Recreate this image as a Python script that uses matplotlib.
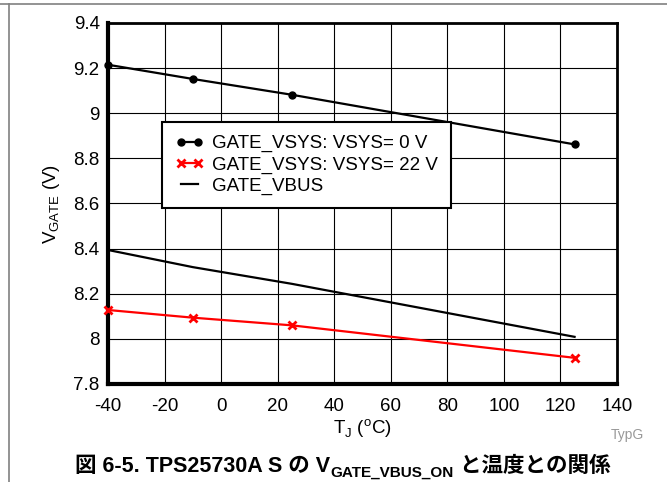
import numpy as np
import matplotlib.pyplot as plt
from matplotlib.lines import Line2D
from matplotlib.ticker import FormatStrFormatter

plt.rcParams['font.family'] = ['Liberation Sans', 'Noto Sans CJK JP']
plt.rcParams['axes.unicode_minus'] = False

temps = [-40, -10, 25, 125]
vsys_0v = [9.215, 9.152, 9.082, 8.862]
vsys_22v = [8.128, 8.094, 8.060, 7.916]
vbus = [8.394, 8.318, 8.244, 8.009]

labels = ["GATE_VSYS: VSYS= 0 V", "GATE_VSYS: VSYS= 22 V", "GATE_VBUS"]
xticks = np.arange(-40, 141, 20)
yticks = np.arange(7.8, 9.41, 0.2)

fig = plt.figure(figsize=(6.67, 4.82), dpi=100)
ax = fig.add_axes([108 / 667, 1 - 384 / 482, 509 / 667, 361 / 482])

ax.plot(temps, vsys_0v, '-o', color='black', lw=1.6, ms=5, label=labels[0], clip_on=False, zorder=3)
ax.plot(temps, vsys_22v, '-x', color='red', lw=1.6, ms=6, mew=2, label=labels[1], clip_on=False, zorder=3)
ax.plot(temps, vbus, '-', color='black', lw=1.6, label=labels[2], zorder=3)

ax.set_xlim(-40, 140)
ax.set_ylim(7.8, 9.4)
ax.set_xticks(xticks)
ax.set_yticks(yticks)
ax.yaxis.set_major_formatter(FormatStrFormatter('%g'))
ax.tick_params(length=0, labelsize=13.5)
ax.tick_params(axis='x', pad=10)
ax.tick_params(axis='y', pad=6)
ax.grid(True, color='black', lw=0.8)
for s in ax.spines.values():
    s.set_linewidth(2)
ax.spines['left'].set_linewidth(3)
ax.spines['bottom'].set_linewidth(3)

ax.set_xlabel(r'T$_\mathregular{J}$ ($^\mathregular{o}$C)', fontsize=13.5, labelpad=2)
ax.set_ylabel(r'V$_\mathregular{GATE}$ (V)', fontsize=13.5, labelpad=8)

leg = ax.legend(loc='upper left', bbox_to_anchor=(0.106, 0.726), fontsize=13.5,
                numpoints=2, handlelength=1.5, fancybox=False, framealpha=1,
                edgecolor='black', borderpad=0.7, labelspacing=0.22,
                handletextpad=0.45, borderaxespad=0)
leg.get_frame().set_linewidth(1.5)

fig.text(627 / 667, 1 - 435 / 482, 'TypG', color='#999999', fontsize=10, ha='center', va='center')

# caption: pieces placed side by side so CJK fallback works outside mathtext
cap_parts = ['図 6-5. TPS25730A S の V', 'GATE_VBUS_ON', ' と温度との関係']
cap_y = 1 - 472 / 482
fig.canvas.draw()
r = fig.canvas.get_renderer()
x = 75 / 667
t1 = fig.text(x, cap_y, cap_parts[0], fontsize=15.5, fontweight='bold', ha='left', va='baseline')
w = t1.get_window_extent(r).width / fig.bbox.width
t2 = fig.text(x + w + 0.001, cap_y - 5 / 482, cap_parts[1], fontsize=11, fontweight='bold', ha='left', va='baseline')
w2 = t2.get_window_extent(r).width / fig.bbox.width
fig.text(x + w + w2 + 0.001, cap_y, cap_parts[2], fontsize=15.5, fontweight='bold', ha='left', va='baseline')

fig.add_artist(Line2D([0, 1], [1 - 4 / 482, 1 - 4 / 482], color='#808080', lw=1.2))
fig.add_artist(Line2D([9 / 667, 9 / 667], [0, 1 - 4 / 482], color='#808080', lw=1.2))

fig.savefig('out.png', dpi=100)
